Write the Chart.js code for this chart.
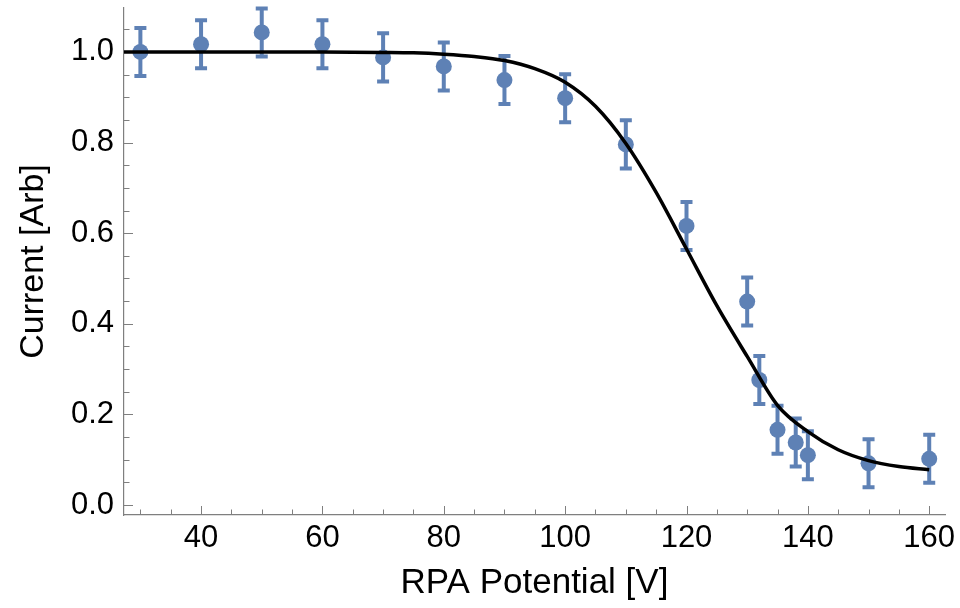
<!DOCTYPE html>
<html>
<head>
<meta charset="utf-8">
<script src="https://cdn.jsdelivr.net/npm/chart.js@4.4.0/dist/chart.umd.min.js"></script>
<style>
  html, body { margin: 0; padding: 0; background: #fff; }
  #wrap { width: 960px; height: 608px; }
</style>
</head>
<body>
<div id="wrap"><canvas id="chart"></canvas></div>
<script>
const potential  = [30, 40, 50, 60, 70, 80, 90, 100, 110, 120, 130, 132, 135, 138, 140, 150, 160];
const current    = [1.000, 1.017, 1.043, 1.017, 0.988, 0.968, 0.938, 0.898, 0.796, 0.616,
                    0.449, 0.276, 0.166, 0.138, 0.110, 0.092, 0.102];
const currentErr = [0.053, 0.053, 0.053, 0.053, 0.053, 0.053, 0.053, 0.053, 0.053, 0.053,
                    0.053, 0.053, 0.053, 0.053, 0.053, 0.053, 0.053];

// fitted curve
const fitPotential = [27.3, 40, 50, 60, 70, 75, 80, 85, 90, 95, 100, 105, 110, 115,
                      120, 125, 130, 135, 140, 145, 150, 155, 160];
const fitCurrent   = [1.000, 1.000, 1.000, 1.000, 0.999, 0.998, 0.995, 0.990, 0.981, 0.963,
                      0.933, 0.880, 0.798, 0.690, 0.565, 0.440, 0.328, 0.220, 0.162,
                      0.122, 0.098, 0.085, 0.078];

const xTicks = [40, 60, 80, 100, 120, 140, 160];
const yTicks = [0.0, 0.2, 0.4, 0.6, 0.8, 1.0];

const blue = '#5e81b5';
const axisGray = '#7f7f7f';
const fontFamily = '"Liberation Sans", Arial, Helvetica, sans-serif';

// minor tick positions (every 5 V, every 0.05)
const xMinor = [];
for (let v = 30; v <= 160; v += 5) if (!xTicks.includes(v)) xMinor.push(v);
const yMinor = [];
for (let i = 0; i <= 21; i++) {
  const v = Math.round(i * 5) / 100;
  if (!yTicks.some(t => Math.abs(t - v) < 1e-9)) yMinor.push(v);
}

const errorBars = {
  id: 'errorBars',
  beforeDatasetsDraw(chart) {
    const { ctx, scales: { x, y } } = chart;
    ctx.save();
    ctx.strokeStyle = blue;
    ctx.lineWidth = 4;
    potential.forEach((v, i) => {
      const px = x.getPixelForValue(v);
      const top = y.getPixelForValue(current[i] + currentErr[i]);
      const bot = y.getPixelForValue(current[i] - currentErr[i]);
      ctx.beginPath();
      ctx.moveTo(px, top); ctx.lineTo(px, bot);
      ctx.moveTo(px - 6, top); ctx.lineTo(px + 6, top);
      ctx.moveTo(px - 6, bot); ctx.lineTo(px + 6, bot);
      ctx.stroke();
    });
    ctx.restore();
  }
};

// ticks pointing into the plot, like the original
const innerTicks = {
  id: 'innerTicks',
  beforeDatasetsDraw(chart) {
    const { ctx, chartArea: a, scales: { x, y } } = chart;
    ctx.save();
    ctx.strokeStyle = axisGray;
    ctx.lineWidth = 1;
    ctx.beginPath();
    const xt = (v, len) => {
      const px = Math.round(x.getPixelForValue(v)) + 0.5;
      ctx.moveTo(px, a.bottom); ctx.lineTo(px, a.bottom - len);
    };
    const yt = (v, len) => {
      const py = Math.round(y.getPixelForValue(v)) + 0.5;
      ctx.moveTo(a.left, py); ctx.lineTo(a.left + len, py);
    };
    xTicks.forEach(v => xt(v, 9));
    xMinor.forEach(v => xt(v, 5.5));
    yTicks.forEach(v => yt(v, 9));
    yMinor.forEach(v => yt(v, 5.5));
    ctx.stroke();
    ctx.restore();
  }
};

new Chart(document.getElementById('chart'), {
  type: 'scatter',
  data: {
    datasets: [
      {
        type: 'line',
        label: 'fit',
        data: fitPotential.map((v, i) => ({ x: v, y: fitCurrent[i] })),
        borderColor: '#000',
        borderWidth: 3.5,
        pointRadius: 0,
        fill: false,
        cubicInterpolationMode: 'monotone',
        order: 0
      },
      {
        label: 'data',
        data: potential.map((v, i) => ({ x: v, y: current[i] })),
        backgroundColor: blue,
        borderWidth: 0,
        pointRadius: 8,
        order: 1
      }
    ]
  },
  options: {
    responsive: true,
    maintainAspectRatio: false,
    animation: false,
    events: [],
    layout: { padding: { top: 8, right: 15, left: 0, bottom: 0 } },
    plugins: { legend: { display: false }, tooltip: { enabled: false } },
    scales: {
      x: {
        type: 'linear',
        min: 27.3,
        max: 162.6,
        grid: { display: false, drawTicks: false },
        border: { display: true, color: axisGray, width: 1.2 },
        afterBuildTicks: s => { s.ticks = xTicks.map(v => ({ value: v })); },
        afterFit: s => { s.height = 93; s.paddingLeft = 0; s.paddingRight = 0; },
        ticks: {
          color: '#000',
          padding: 5,
          maxRotation: 0,
          font: { family: fontFamily, size: 31 },
          callback: v => String(v)
        },
        title: {
          display: true,
          text: 'RPA Potential [V]',
          color: '#000',
          font: { family: fontFamily, size: 35 },
          padding: { top: 0, bottom: 4 }
        }
      },
      y: {
        type: 'linear',
        min: -0.022,
        max: 1.097,
        grid: { display: false, drawTicks: false },
        border: { display: true, color: axisGray, width: 1.2 },
        afterBuildTicks: s => { s.ticks = yTicks.map(v => ({ value: v })); },
        afterFit: s => { s.width = 124; s.paddingTop = 0; s.paddingBottom = 0; },
        ticks: {
          color: '#000',
          padding: 10,
          font: { family: fontFamily, size: 31 },
          callback: v => v.toFixed(1)
        },
        title: {
          display: true,
          text: 'Current [Arb]',
          color: '#000',
          font: { family: fontFamily, size: 34 },
          padding: { top: 13, bottom: 0 }
        }
      }
    }
  },
  plugins: [errorBars, innerTicks]
});
</script>
</body>
</html>
